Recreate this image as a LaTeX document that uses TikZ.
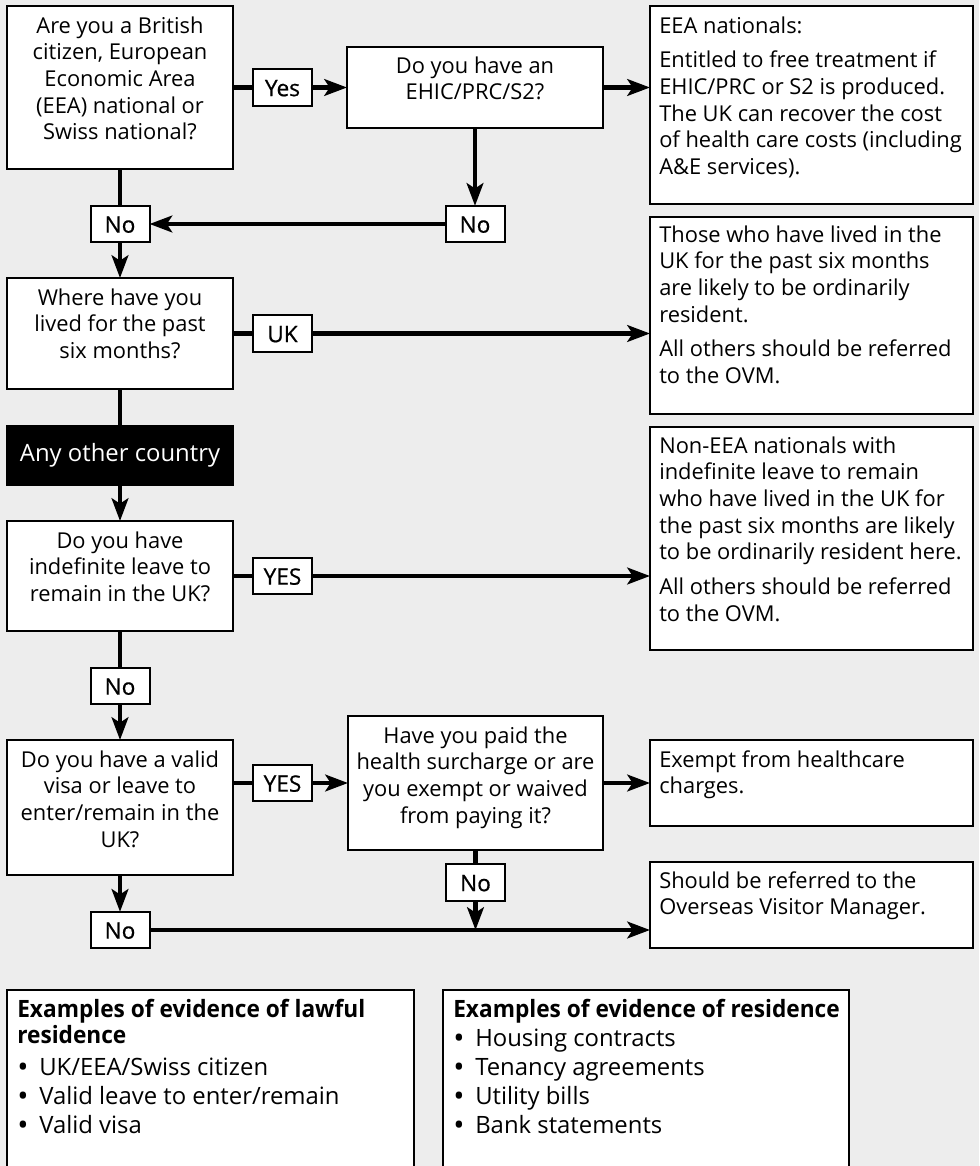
\documentclass[tikz,border=0pt]{standalone}
\usepackage{fontspec}
\setmainfont{Open Sans}
\newfontfamily\lblfont{Open Sans}[FakeBold=0.6]
\usetikzlibrary{arrows.meta,calc}
\definecolor{bg}{HTML}{EDEDED}
\newcommand{\fs}{\fontsize{16.4pt}{20pt}\selectfont}
\newcommand{\fsb}{\fontsize{17.9pt}{21.75pt}\selectfont}
\newcommand{\tstr}[1]{\rule{0pt}{#1}}
\newcommand{\bul}{\makebox[16.5pt][l]{\smash{\raisebox{-0.08em}{\scalebox{1.25}{•}}}}}
\newcommand{\hd}[1]{\scalebox{0.95}[1]{\textbf{#1}}}
\tikzset{
  box/.style={draw=black, fill=white, line width=1.5pt, inner sep=0pt, outer sep=0pt, anchor=north west},
  lbl/.style={draw=black, fill=white, line width=1.5pt, minimum width=44.25pt, minimum height=27.25pt,
              inner sep=0pt, outer sep=0pt, font=\lblfont\fontsize{17pt}{20pt}\selectfont, text height=15pt, text depth=2pt},
  tc/.style={inner sep=0pt, anchor=north, align=center, font=\fs},
  tl/.style={inner sep=0pt, anchor=north west, align=left, font=\fs},
  conn/.style={line width=3.2pt},
  arr/.style={conn, -{Stealth[length=17pt,width=12.5pt,inset=4pt]}},
}
\begin{document}
\begin{tikzpicture}[x=0.75pt,y=-0.75pt]
\useasboundingbox (0,0) rectangle (979,1166);
\clip (0,0) rectangle (979,1166);
\fill[bg] (0,0) rectangle (979,1166);

% question boxes
\node[box, minimum width=169.5pt, minimum height=122.25pt] (b1) at (7,6) {};
\node[tc] (t1) at (b1.north) {\tstr{20.25pt}Are you a British\\citizen, European\\Economic Area\\(EEA) national or\\Swiss national?};
\node[box, minimum width=192pt, minimum height=60.75pt] (b2) at (347,47) {};
\node[tc] (t2) at (b2.north) {\tstr{19.5pt}Do you have an\\EHIC/PRC/S2?};
\node[box, minimum width=169.5pt, minimum height=83.25pt] (b3) at (7,278) {};
\node[tc] (t3) at (b3.north) {\tstr{20.25pt}Where have you\\lived for the past\\six months?};
\node[box, fill=black, text=white, font=\fsb, minimum width=169.5pt, minimum height=44.25pt] (blk) at (7,426) {Any other country};
\node[box, minimum width=169.5pt, minimum height=82.5pt] (b4) at (7,521) {};
\node[tc] (t4) at (b4.north) {\tstr{20.25pt}Do you have\\indefinite leave to\\remain in the UK?};
\node[box, minimum width=169.5pt, minimum height=101.25pt] (b5) at (7,740) {};
\node[tc] (t5) at (b5.north) {\tstr{20.25pt}Do you have a valid\\visa or leave to\\enter/remain in the\\UK?};
\node[box, minimum width=191.25pt, minimum height=100.5pt] (b6) at (348,716) {};
\node[tc] (t6) at (b6.north) {\tstr{20.25pt}Have you paid the\\health surcharge or are\\you exempt or waived\\from paying it?};

% result boxes
\node[box, minimum width=242.25pt, minimum height=148.5pt] (r1) at (650,6) {};
\node[tl] (tr1) at ($(r1.north west)+(9,0)$) {\tstr{20.25pt}EEA nationals:\\[6pt]Entitled to free treatment if\\EHIC/PRC or S2 is produced.\\The UK can recover the cost\\of health care costs (including\\A\&E services).};
\node[box, minimum width=242.25pt, minimum height=147.75pt] (r2) at (650,217) {};
\node[tl] (tr2) at ($(r2.north west)+(9,0)$) {\tstr{18.75pt}Those who have lived in the\\UK for the past six months\\are likely to be ordinarily\\resident.\\[6pt]All others should be referred\\to the OVM.};
\node[box, minimum width=242.25pt, minimum height=167.25pt] (r3) at (650,427) {};
\node[tl] (tr3) at ($(r3.north west)+(9,0)$) {\tstr{19.5pt}Non-EEA nationals with\\indefinite leave to remain\\who have lived in the UK for\\the past six months are likely\\to be ordinarily resident here.\\[6pt]All others should be referred\\to the OVM.};
\node[box, minimum width=242.25pt, minimum height=64.5pt] (r4) at (650,740) {};
\node[tl] (tr4) at ($(r4.north west)+(9,0)$) {\tstr{20.25pt}Exempt from healthcare\\charges.};
\node[box, minimum width=242.25pt, minimum height=64.5pt] (r5) at (650,862) {};
\node[tl] (tr5) at ($(r5.north west)+(9,0)$) {\tstr{19.5pt}Should be referred to the\\Overseas Visitor Manager.};

% evidence boxes
\node[box, minimum width=305.25pt, minimum height=150pt] (e1) at (7,990) {};
\node[tl, font=\fsb] (te1) at ($(e1.north west)+(10,0)$) {\tstr{20.25pt}\hd{Examples of evidence of lawful}\\[-2.25pt]\hd{residence}\\[2.25pt]\bul UK/EEA/Swiss citizen\\\bul Valid leave to enter/remain\\\bul Valid visa};
\node[box, minimum width=304.5pt, minimum height=150pt] (e2) at (443,990) {};
\node[tl, font=\fsb] (te2) at ($(e2.north west)+(10,0)$) {\tstr{20.25pt}\hd{Examples of evidence of residence}\\\bul Housing contracts\\\bul Tenancy agreements\\\bul Utility bills\\\bul Bank statements};

% labels
\node[lbl] (yes1) at (282.5,87.5) {Yes};
\node[lbl] (no1) at (120,224) {No};
\node[lbl] (no2) at (475,224) {No};
\node[lbl] (uk) at (282.5,333.5) {UK};
\node[lbl] (yesA) at (282.5,576) {YES};
\node[lbl] (no3) at (120,686) {No};
\node[lbl] (yesB) at (282.5,783) {YES};
\node[lbl] (no4) at (475.5,882.5) {No};
\node[lbl] (no5) at (120,930) {No};

% connectors
\draw[conn] (b1.east) -- (yes1.west);
\draw[arr] (yes1.east) -- (b2.west);
\draw[arr] (b2.east) -- (b2.east -| r1.west);
\draw[arr] (b2.south) -- (no2.north);
\draw[arr] (no2.west) -- (no1.east);
\draw[conn] (b1.south) -- (no1.north);
\draw[arr] (no1.south) -- (b3.north);
\draw[conn] (b3.east) -- (uk.west);
\draw[arr] (uk.east) -- (uk.east -| r2.west);
\draw[conn] (b3.south) -- (blk.north);
\draw[arr] (blk.south) -- (b4.north);
\draw[conn] (b4.east) -- (yesA.west);
\draw[arr] (yesA.east) -- (yesA.east -| r3.west);
\draw[conn] (b4.south) -- (no3.north);
\draw[arr] (no3.south) -- (b5.north);
\draw[conn] (yesB.west -| b5.east) -- (yesB.west);
\draw[arr] (yesB.east) -- (b6.west);
\draw[arr] (b6.east) -- (r4.west);
\draw[conn] (b6.south) -- (no4.north);
\coordinate (j) at (no4.south |- no5.east);
\draw[arr] (no4.south) -- (j);
\draw[arr] (b5.south) -- (no5.north);
\draw[arr] (no5.east) -- (no5.east -| r5.west);
\end{tikzpicture}
\end{document}
